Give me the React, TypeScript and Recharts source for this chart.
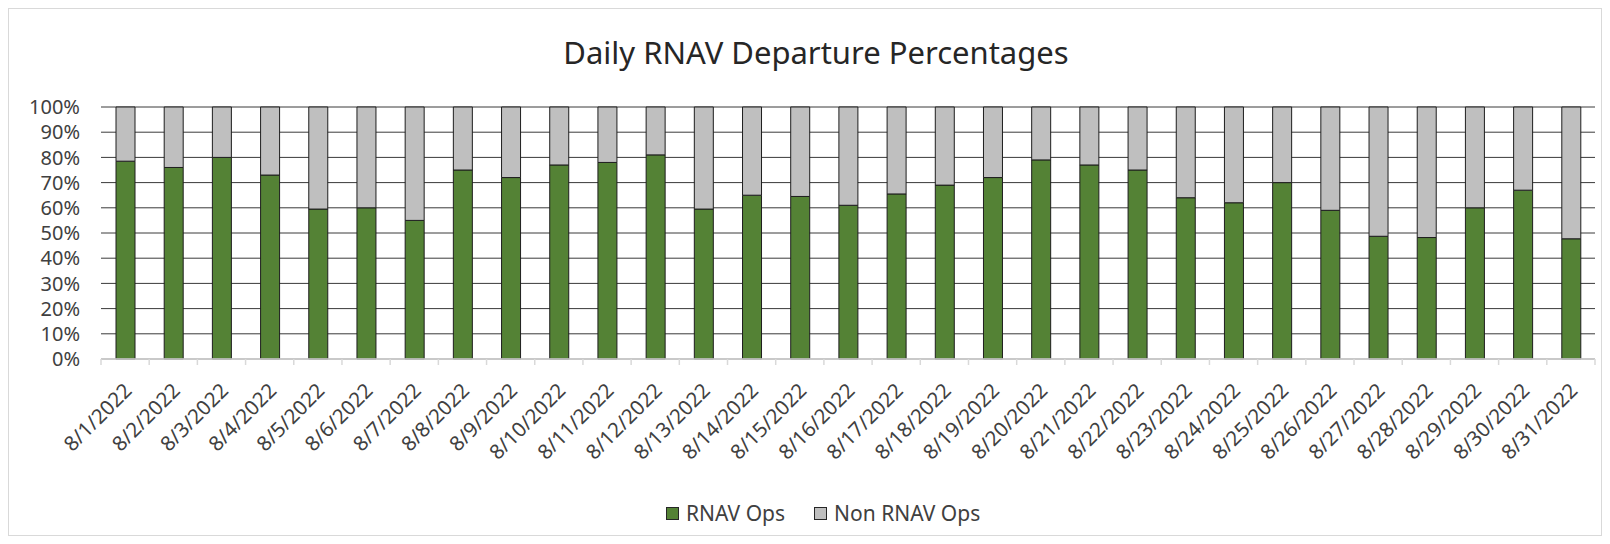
import React from "react";
import { BarChart, Bar, XAxis, YAxis, CartesianGrid } from "recharts";

const days = [
  "8/1/2022", "8/2/2022", "8/3/2022", "8/4/2022", "8/5/2022", "8/6/2022", "8/7/2022",
  "8/8/2022", "8/9/2022", "8/10/2022", "8/11/2022", "8/12/2022", "8/13/2022", "8/14/2022",
  "8/15/2022", "8/16/2022", "8/17/2022", "8/18/2022", "8/19/2022", "8/20/2022", "8/21/2022",
  "8/22/2022", "8/23/2022", "8/24/2022", "8/25/2022", "8/26/2022", "8/27/2022", "8/28/2022",
  "8/29/2022", "8/30/2022", "8/31/2022",
];

const rnavOps = [
  78.5, 76, 80, 73, 59.5, 60, 55, 75, 72, 77, 78, 81, 59.5, 65, 64.5, 61,
  65.5, 69, 72, 79, 77, 75, 64, 62, 70, 59, 48.7, 48.2, 60, 67, 47.7,
];

const nonRnavOps = [
  21.5, 24, 20, 27, 40.5, 40, 45, 25, 28, 23, 22, 19, 40.5, 35, 35.5, 39,
  34.5, 31, 28, 21, 23, 25, 36, 38, 30, 41, 51.3, 51.8, 40, 33, 52.3,
];

const yTicks = [0, 10, 20, 30, 40, 50, 60, 70, 80, 90, 100];

const data = days.map((name, i) => ({
  name,
  rnav: rnavOps[i],
  nonRnav: nonRnavOps[i],
}));

const CHART_W = 1592;
const CHART_H = 526;
const MARGIN = { top: 98, right: 6, bottom: 66, left: 0 };
const Y_AXIS_W = 92;
const STEP = (CHART_W - MARGIN.left - MARGIN.right - Y_AXIS_W) / days.length;

const FONT = "'Noto Sans', 'Open Sans', sans-serif";
const GREEN = "#548235";
const GRAY = "#bfbfbf";
const TEXT = "#404040";

const DateTick = (props: any) => {
  const { x, y, payload, index } = props;
  const last = index === days.length - 1;
  return (
    <g>
      <line x1={x - STEP / 2} x2={x - STEP / 2} y1={y} y2={y + 6} stroke="#d9d9d9" strokeWidth={1.5} />
      {last && (
        <line x1={x + STEP / 2} x2={x + STEP / 2} y1={y} y2={y + 6} stroke="#d9d9d9" strokeWidth={1.5} />
      )}
      <text
        transform={`translate(${x + 8},${y + 33}) rotate(-45)`}
        textAnchor="end"
        fill={TEXT}
        fontSize={20.5}
        fontFamily={FONT}
      >
        {payload.value}
      </text>
    </g>
  );
};

const LegendItem = ({ color, label, gap }: { color: string; label: string; gap: number }) => (
  <span style={{ display: "inline-flex", alignItems: "center", marginRight: gap }}>
    <span
      style={{
        display: "inline-block",
        width: 11,
        height: 11,
        background: color,
        border: "1px solid #262626",
        marginRight: 7,
      }}
    />
    <span>{label}</span>
  </span>
);

export default function App() {
  return (
    <div
      style={{
        position: "relative",
        width: CHART_W,
        height: CHART_H,
        border: "1px solid #d9d9d9",
        background: "#fff",
        fontFamily: FONT,
      }}
    >
      <div
        style={{
          position: "absolute",
          top: 22,
          left: 0,
          width: CHART_W,
          paddingLeft: 22,
          boxSizing: "border-box",
          textAlign: "center",
          fontSize: 31,
          color: "#262626",
        }}
      >
        Daily RNAV Departure Percentages
      </div>
      <BarChart width={CHART_W} height={CHART_H} data={data} margin={MARGIN} barSize={19}>
        <CartesianGrid vertical={false} stroke="#3a3a3a" strokeWidth={1} />
        <XAxis
          dataKey="name"
          interval={0}
          height={110}
          tickLine={false}
          tickSize={0}
          tickMargin={0}
          axisLine={{ stroke: "#d9d9d9", strokeWidth: 1.5 }}
          tick={<DateTick />}
        />
        <YAxis
          width={Y_AXIS_W}
          domain={[0, 100]}
          ticks={yTicks}
          interval={0}
          tickFormatter={(v: number) => `${v}%`}
          axisLine={false}
          tickLine={false}
          tickSize={0}
          tickMargin={21}
          tick={{ fill: TEXT, fontSize: 20, fontFamily: FONT }}
        />
        <Bar dataKey="rnav" stackId="a" fill={GREEN} stroke="#1e1e1e" strokeWidth={1} isAnimationActive={false} />
        <Bar dataKey="nonRnav" stackId="a" fill={GRAY} stroke="#1e1e1e" strokeWidth={1} isAnimationActive={false} />
      </BarChart>
      <div
        style={{
          position: "absolute",
          top: 490,
          left: 657,
          fontSize: 21,
          color: TEXT,
          display: "flex",
          whiteSpace: "nowrap",
        }}
      >
        <LegendItem color={GREEN} label="RNAV Ops" gap={29} />
        <LegendItem color={GRAY} label="Non RNAV Ops" gap={0} />
      </div>
    </div>
  );
}
